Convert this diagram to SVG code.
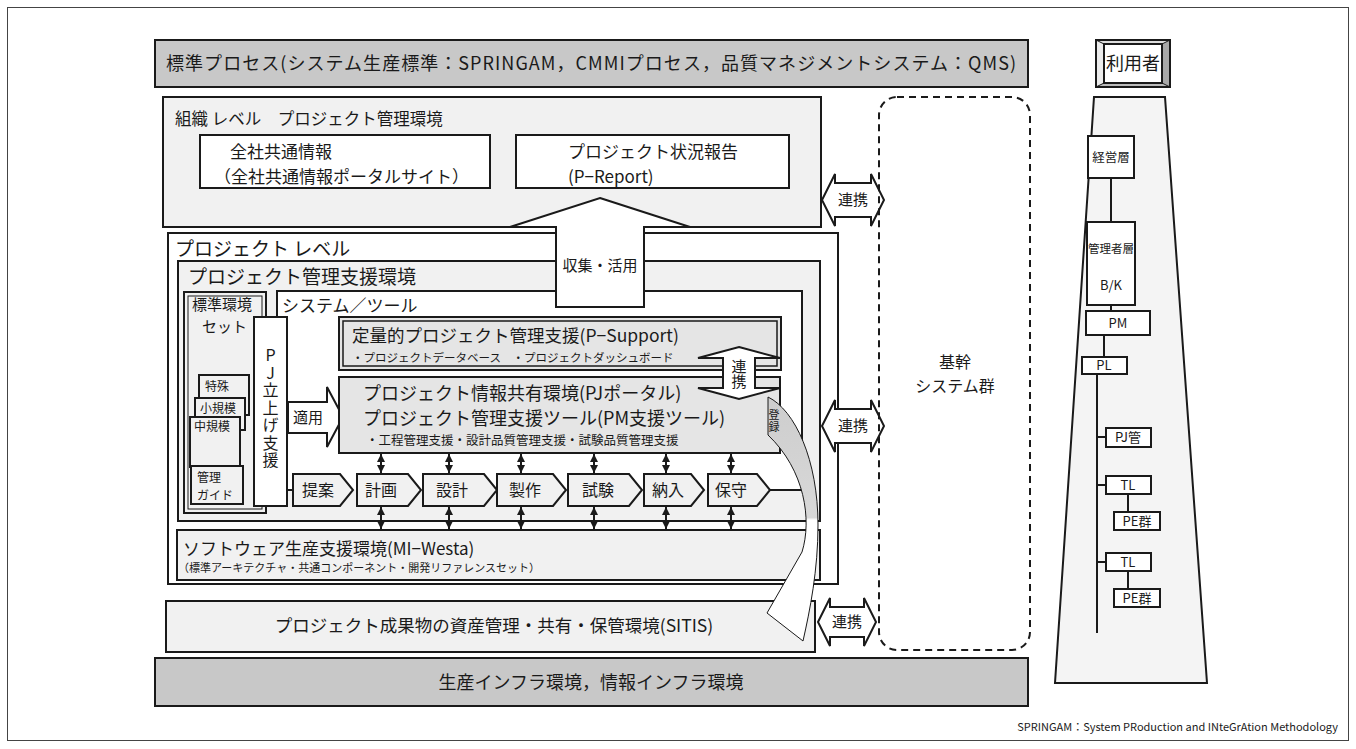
<svg xmlns="http://www.w3.org/2000/svg" width="1356" height="749" viewBox="0 0 1356 749">
<defs>
<style>
.t{font-family:"Noto Sans CJK JP","Noto Sans",sans-serif;fill:#1a1a1a}
.v{writing-mode:vertical-rl;text-orientation:upright}
.bx{stroke:#1a1a1a;stroke-width:2}
.lt{fill:#f1f1f1}
.gy{fill:#c8c8c8}
.md{fill:#e5e5e5}
.wh{fill:#fff}
.ln{stroke:#1a1a1a;stroke-width:2;fill:none}
</style>
<marker id="ah" viewBox="0 0 10 10" refX="10" refY="5" markerUnits="userSpaceOnUse" markerWidth="8" markerHeight="9" orient="auto-start-reverse"><path d="M0,0L10,5L0,10z" fill="#1a1a1a"/></marker>
<linearGradient id="reg" gradientUnits="userSpaceOnUse" x1="0" y1="395" x2="0" y2="645">
<stop offset="0" stop-color="#cdcdcd"/><stop offset="0.49" stop-color="#d8d8d8"/><stop offset="0.5" stop-color="#fff"/><stop offset="1" stop-color="#fff"/>
</linearGradient>
</defs>
<rect x="0" y="0" width="1356" height="749" fill="#fff"/>
<rect x="7.5" y="7.5" width="1341" height="733" fill="none" stroke="#444" stroke-width="1"/>

<g id="standard-process">
<rect x="155" y="40" width="873" height="47" class="gy bx"/>
<text class="t" x="591" y="70" font-size="18" text-anchor="middle" textLength="850">標準プロセス(システム生産標準：SPRINGAM，CMMIプロセス，品質マネジメントシステム：QMS)</text>
</g>

<g id="org-level">
<rect x="163" y="97" width="658" height="130" class="lt bx"/>
<text class="t" x="175" y="125" font-size="16.5">組織 レベル　プロジェクト管理環境</text>
</g>
<g id="company-info">
<rect x="200" y="135" width="290" height="53" class="wh bx"/>
<text class="t" x="230" y="158" font-size="17">全社共通情報</text>
<text class="t" x="214" y="183" font-size="17">（全社共通情報ポータルサイト）</text>
</g>
<g id="p-report">
<rect x="516" y="135" width="273" height="53" class="wh bx"/>
<text class="t" x="568" y="158" font-size="17">プロジェクト状況報告</text>
<text class="t" x="568" y="183" font-size="17">(P−Report)</text>
</g>

<g id="project-level">
<rect x="168" y="233" width="670" height="351" class="wh bx"/>
<text class="t" x="175" y="256" font-size="19">プロジェクト レベル</text>
</g>
<g id="pm-support-env">
<rect x="178" y="261" width="642" height="260" class="lt bx"/>
<text class="t" x="188" y="284" font-size="19">プロジェクト管理支援環境</text>
</g>
<g id="system-tool">
<path d="M277,291H802V490H287V317H277Z" fill="#fff"/>
<path d="M277,317V291H802V490H770" class="ln"/>
<text class="t" x="282" y="312" font-size="17">システム／ツール</text>
</g>
<g id="standard-set">
<rect x="184" y="292" width="82" height="221" class="lt bx"/>
<rect x="188" y="296" width="74" height="213" fill="none" stroke="#1a1a1a" stroke-width="1"/>
<text class="t" x="192" y="310" font-size="15">標準環境</text>
<text class="t" x="202" y="332" font-size="15">セット</text>
</g>
<g id="card-special">
<rect x="199" y="375" width="50" height="40" class="lt bx"/>
<text class="t" x="205" y="391" font-size="12">特殊</text>
</g>
<g id="card-small">
<rect x="195" y="398" width="50" height="32" class="lt bx"/>
<text class="t" x="200" y="413" font-size="12">小規模</text>
</g>
<g id="card-medium">
<rect x="190" y="417" width="50" height="50" class="lt bx"/>
<text class="t" x="194" y="431" font-size="12">中規模</text>
</g>
<g id="mgmt-guide">
<rect x="191" y="466" width="52" height="38" class="lt bx"/>
<text class="t" x="197" y="482" font-size="12">管理</text>
<text class="t" x="197" y="500" font-size="12">ガイド</text>
</g>
<g id="pj-startup">
<rect x="254" y="317" width="33" height="189" class="wh bx"/>
<text class="t v" x="270.5" y="347" font-size="16" letter-spacing="1.5">PJ立上げ支援</text>
</g>
<g id="apply-arrow">
<polygon points="288,402 327,402 327,387 343,417 327,447 327,433 288,433" class="wh bx"/>
<text class="t" x="308" y="423" font-size="15" text-anchor="middle">適用</text>
</g>
<g id="p-support">
<rect x="339" y="317" width="442" height="53" class="md bx"/>
<rect x="343" y="321" width="434" height="45" fill="none" stroke="#1a1a1a" stroke-width="1.5"/>
<text class="t" x="352" y="342" font-size="17.5">定量的プロジェクト管理支援(P−Support)</text>
<text class="t" x="352" y="362" font-size="11.5">・プロジェクトデータベース　・プロジェクトダッシュボード</text>
</g>
<g id="pj-portal">
<rect x="339" y="377" width="441" height="76" class="md bx"/>
<text class="t" x="363" y="400" font-size="18">プロジェクト情報共有環境(PJポータル)</text>
<text class="t" x="363" y="425" font-size="18">プロジェクト管理支援ツール(PM支援ツール)</text>
<text class="t" x="366" y="445" font-size="12.5">・工程管理支援・設計品質管理支援・試験品質管理支援</text>
</g>
<g id="link-v">
<polygon points="739,347 780,358 755,358 755,388 780,388 739,399 698,388 723,388 723,358 698,358" class="wh bx"/>
<text class="t v" x="739" y="359" font-size="15">連携</text>
</g>

<g id="connectors">
<line x1="287" y1="490" x2="293" y2="490" class="ln"/>
<g stroke="#1a1a1a" stroke-width="2" marker-start="url(#ah)" marker-end="url(#ah)">
<line x1="381" y1="454" x2="381" y2="473"/>
<line x1="449" y1="454" x2="449" y2="473"/>
<line x1="521" y1="454" x2="521" y2="473"/>
<line x1="594" y1="454" x2="594" y2="473"/>
<line x1="666" y1="454" x2="666" y2="473"/>
<line x1="731" y1="454" x2="731" y2="473"/>
<line x1="381" y1="507" x2="381" y2="529"/>
<line x1="449" y1="507" x2="449" y2="529"/>
<line x1="521" y1="507" x2="521" y2="529"/>
<line x1="594" y1="507" x2="594" y2="529"/>
<line x1="666" y1="507" x2="666" y2="529"/>
<line x1="731" y1="507" x2="731" y2="529"/>
</g>
</g>

<g id="step-proposal"><polygon points="293,474 340,474 353,490 340,506 293,506" class="lt bx"/><text class="t" x="318" y="496" font-size="16" text-anchor="middle">提案</text></g>
<g id="step-plan"><polygon points="357,474 408,474 421,490 408,506 357,506" class="lt bx"/><text class="t" x="381" y="496" font-size="16" text-anchor="middle">計画</text></g>
<g id="step-design"><polygon points="423,474 484,474 497,490 484,506 423,506" class="lt bx"/><text class="t" x="452" y="496" font-size="16" text-anchor="middle">設計</text></g>
<g id="step-make"><polygon points="497,474 553,474 566,490 553,506 497,506" class="lt bx"/><text class="t" x="525" y="496" font-size="16" text-anchor="middle">製作</text></g>
<g id="step-test"><polygon points="568,474 629,474 642,490 629,506 568,506" class="lt bx"/><text class="t" x="598" y="496" font-size="16" text-anchor="middle">試験</text></g>
<g id="step-deliver"><polygon points="644,474 691,474 704,490 691,506 644,506" class="lt bx"/><text class="t" x="668" y="496" font-size="16" text-anchor="middle">納入</text></g>
<g id="step-maint"><polygon points="708,474 757,474 770,490 757,506 708,506" class="lt bx"/><text class="t" x="731" y="496" font-size="16" text-anchor="middle">保守</text></g>

<g id="mi-westa">
<rect x="177" y="530" width="643" height="50" class="lt bx"/>
<text class="t" x="183" y="555" font-size="17">ソフトウェア生産支援環境(MI−Westa)</text>
<text class="t" x="178" y="572" font-size="11">（標準アーキテクチャ・共通コンポーネント・開発リファレンスセット）</text>
</g>

<g id="collect-arrow">
<polygon points="600,198 690,227 644,227 644,307 556,307 556,227 510,227" class="wh bx"/>
<text class="t" x="600" y="271" font-size="15" text-anchor="middle">収集・活用</text>
</g>

<g id="sitis">
<rect x="166" y="601" width="649" height="51" class="lt bx"/>
<text class="t" x="494" y="632" font-size="17.5" text-anchor="middle">プロジェクト成果物の資産管理・共有・保管環境(SITIS)</text>
</g>

<g id="register-arrow">
<path d="M768,397C795,410 818,460 818,525C818,570 810,610 803,641L767,613L802,552C812,520 805,470 768,435Z" fill="url(#reg)" stroke="#1a1a1a" stroke-width="1"/>
<text class="t v" x="774" y="409" font-size="11" letter-spacing="1">登録</text>
</g>

<g id="link-1">
<polygon points="822,200 835,174 835,183 871,183 871,174 884,200 871,226 871,217 835,217 835,226" class="wh bx"/>
<text class="t" x="853" y="205" font-size="15" text-anchor="middle">連携</text>
</g>
<g id="link-2">
<polygon points="822,426 835,400 835,409 871,409 871,400 884,426 871,452 871,443 835,443 835,452" class="wh bx"/>
<text class="t" x="853" y="431" font-size="15" text-anchor="middle">連携</text>
</g>
<g id="link-3">
<polygon points="818,622 830,598 830,607 864,607 864,598 876,622 864,646 864,637 830,637 830,646" class="wh bx"/>
<text class="t" x="847" y="627" font-size="15" text-anchor="middle">連携</text>
</g>

<g id="core-systems">
<rect x="879" y="97" width="151" height="553" rx="18" fill="none" stroke="#1a1a1a" stroke-width="2" stroke-dasharray="7 5"/>
<text class="t" x="955" y="368" font-size="16" text-anchor="middle">基幹</text>
<text class="t" x="955" y="392" font-size="16" text-anchor="middle">システム群</text>
</g>

<g id="infra">
<rect x="155" y="658" width="873" height="48" class="gy bx"/>
<text class="t" x="591" y="689" font-size="18" text-anchor="middle">生産インフラ環境，情報インフラ環境</text>
</g>

<g id="users">
<rect x="1096" y="40" width="74" height="47" fill="#ddd" class="bx"/>
<polygon points="1096,40 1104,44 1104,83 1096,87" fill="#ececec"/>
<polygon points="1170,40 1162,44 1162,83 1170,87" fill="#a8a8a8"/>
<polygon points="1096,87 1104,83 1162,83 1170,87" fill="#bbb"/>
<rect x="1104" y="44" width="58" height="39" class="wh bx"/>
<path d="M1096,40L1104,44M1170,40L1162,44M1096,87L1104,83M1170,87L1162,83" stroke="#1a1a1a" stroke-width="1"/>
<rect x="1096" y="40" width="74" height="47" fill="none" class="bx"/>
<text class="t" x="1133" y="70" font-size="18" text-anchor="middle">利用者</text>
</g>
<g id="user-pyramid">
<polygon points="1094,97 1165,97 1207,683 1055,683" fill="#f4f4f4" class="bx"/>
<path d="M1111,178V222M1111,305V311M1104,335V357M1097,374V633M1097,437H1106M1097,485H1106M1097,562H1106M1128,494V512M1128,571V589" class="ln"/>
</g>
<g id="u-exec"><rect x="1088" y="136" width="46" height="42" class="wh bx"/><text class="t" x="1111" y="162" font-size="12.5" text-anchor="middle">経営層</text></g>
<g id="u-mgr"><rect x="1087" y="222" width="48" height="83" class="wh bx"/><text class="t" x="1111" y="253" font-size="11.5" text-anchor="middle">管理者層</text><text class="t" x="1111" y="290" font-size="13" text-anchor="middle">B/K</text></g>
<g id="u-pm"><rect x="1086" y="311" width="64" height="24" class="wh bx"/><text class="t" x="1118" y="328" font-size="13" text-anchor="middle">PM</text></g>
<g id="u-pl"><rect x="1082" y="357" width="45" height="17" class="wh bx"/><text class="t" x="1104" y="370" font-size="13" text-anchor="middle">PL</text></g>
<g id="u-pjm"><rect x="1106" y="428" width="45" height="19" class="wh bx"/><text class="t" x="1128" y="442" font-size="13" text-anchor="middle">PJ管</text></g>
<g id="u-tl1"><rect x="1106" y="476" width="45" height="18" class="wh bx"/><text class="t" x="1128" y="490" font-size="13" text-anchor="middle">TL</text></g>
<g id="u-pe1"><rect x="1114" y="512" width="46" height="18" class="wh bx"/><text class="t" x="1137" y="526" font-size="13" text-anchor="middle">PE群</text></g>
<g id="u-tl2"><rect x="1106" y="553" width="45" height="18" class="wh bx"/><text class="t" x="1128" y="567" font-size="13" text-anchor="middle">TL</text></g>
<g id="u-pe2"><rect x="1114" y="589" width="46" height="18" class="wh bx"/><text class="t" x="1137" y="603" font-size="13" text-anchor="middle">PE群</text></g>

<text class="t" x="1338" y="731" font-size="11" text-anchor="end" fill="#333">SPRINGAM：System PRoduction and INteGrAtion Methodology</text>
</svg>
